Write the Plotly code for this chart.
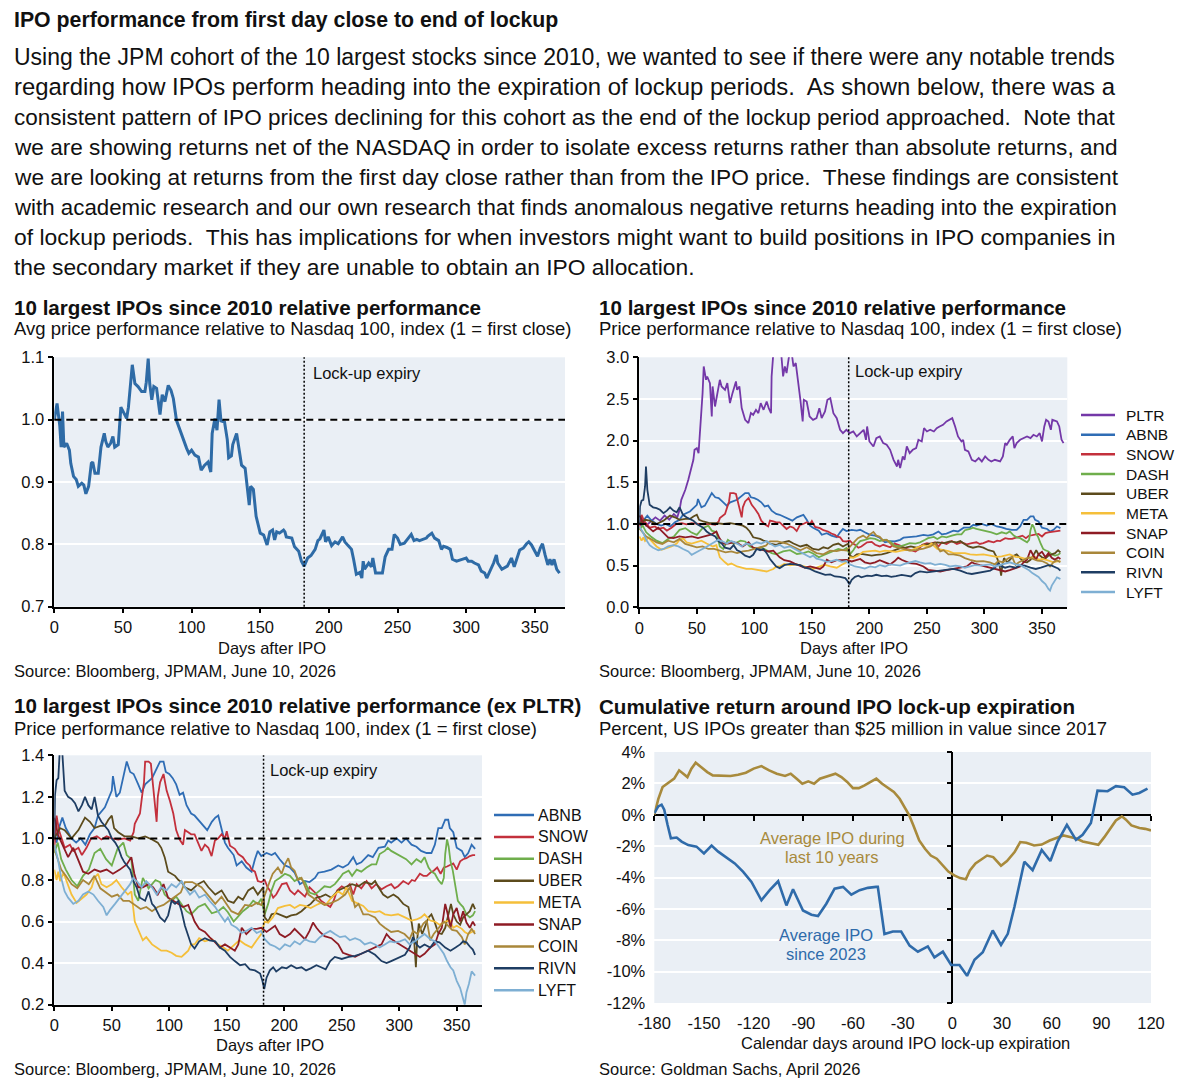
import plotly.graph_objects as go

W, H = 1200, 1086
FONT = "Liberation Sans, Arial, Helvetica, sans-serif"
BG = "#EAEFF5"

# ---------------- data ----------------
LOCKUP_DAY = 182

AVG = [(0, 1.0), (2, 1.026), (4, 0.99), (5, 0.956), (6, 1.013), (7, 0.956), (9, 0.962), (11, 0.951),
       (12, 0.93), (14, 0.909), (16, 0.904), (17.5, 0.893), (20, 0.898), (21.5, 0.895), (23, 0.881),
       (25, 0.893), (27, 0.93), (28, 0.932), (29.6, 0.914), (32, 0.914), (34, 0.956), (36.4, 0.978),
       (37.5, 0.965), (39, 0.956), (41, 0.962), (42.7, 0.973), (44, 0.956), (46.6, 0.96), (48.5, 1.02),
       (50, 1.013), (52.7, 1.002), (54, 1.02), (56.8, 1.088), (58.7, 1.058), (61, 1.053), (63.6, 1.045),
       (66, 1.045), (67, 1.06), (68.4, 1.098), (69.5, 1.058), (71, 1.032), (72.5, 1.053), (74.5, 1.05),
       (77, 1.008), (78.6, 1.04), (80.6, 1.029), (83, 1.055), (85, 1.047), (86.7, 1.034), (89, 0.999),
       (91.5, 0.983), (94, 0.97), (96.4, 0.954), (98, 0.946), (100, 0.951), (102.4, 0.943), (105, 0.94),
       (107, 0.919), (109.5, 0.927), (112, 0.932), (114, 0.916), (115, 0.978), (117, 1.002), (118.5, 0.983),
       (120, 1.032), (121.4, 0.998), (124, 0.996), (126, 0.968), (127, 0.939), (129, 0.942), (130, 0.96),
       (132.8, 0.978), (134, 0.96), (136.4, 0.927), (139, 0.922), (140, 0.898), (142, 0.863), (143, 0.893),
       (145, 0.888), (147, 0.845), (150, 0.818), (152.5, 0.815), (155, 0.799), (157, 0.82), (159, 0.823),
       (160.5, 0.807), (162, 0.82), (164, 0.818), (167, 0.823), (168, 0.82), (169, 0.812), (173, 0.81),
       (175, 0.796), (178, 0.789), (180, 0.773), (182, 0.765), (184.5, 0.778), (187, 0.782), (190, 0.792),
       (192, 0.806), (193.5, 0.809), (196.4, 0.823), (197.6, 0.804), (199.5, 0.812), (202, 0.798),
       (204.5, 0.804), (206.8, 0.801), (210, 0.812), (211.7, 0.804), (214, 0.798), (216.5, 0.792),
       (218, 0.776), (220, 0.752), (222.6, 0.755), (224, 0.746), (225, 0.773), (226, 0.76), (229, 0.77),
       (231, 0.764), (232, 0.778), (234, 0.754), (236, 0.754), (239, 0.754), (241, 0.78), (243.5, 0.792),
       (246, 0.792), (247.6, 0.816), (250, 0.81), (252, 0.8), (255, 0.802), (256.6, 0.806), (260, 0.816),
       (262, 0.806), (264, 0.808), (266, 0.806), (268.7, 0.808), (271, 0.81), (272, 0.813), (275, 0.818),
       (277, 0.81), (280, 0.806), (282, 0.792), (283.5, 0.797), (286, 0.795), (288.4, 0.792), (290, 0.776),
       (293, 0.773), (297, 0.776), (300, 0.778), (301.5, 0.773), (304, 0.773), (306, 0.77), (309, 0.767),
       (311, 0.757), (313.5, 0.754), (315, 0.746), (317.5, 0.757), (320, 0.77), (322, 0.783), (323, 0.77),
       (326, 0.76), (328, 0.762), (330, 0.765), (333, 0.778), (335, 0.764), (339, 0.791), (341.6, 0.794),
       (344, 0.801), (345.6, 0.804), (347.6, 0.799), (350, 0.789), (352, 0.781), (354, 0.794),
       (355.6, 0.801), (357.5, 0.783), (359.5, 0.767), (361, 0.776), (362.5, 0.767), (364, 0.776),
       (366, 0.76), (368, 0.754)]

PLTR = [(0, 1.0), (3, 1.05), (6, 0.98), (10, 1.03), (14, 1.08), (18, 1.04), (22, 1.1), (26, 1.05),
        (30, 1.12), (33, 1.08), (35, 1.17), (36.5, 1.29), (40, 1.41), (42.6, 1.53), (44, 1.61), (47, 1.77),
        (48, 1.89), (50, 1.91), (51.5, 1.85), (53, 2.13), (55, 2.57), (56, 2.89), (58, 2.73), (59, 2.77),
        (61.4, 2.69), (63, 2.29), (63.7, 2.65), (65.8, 2.41), (68, 2.57), (70, 2.73), (71.5, 2.65),
        (74.5, 2.61), (76.5, 2.69), (78.8, 2.45), (81, 2.57), (84, 2.71), (85, 2.61), (87, 2.65), (89, 2.39),
        (92, 2.25), (94.8, 2.21), (97, 2.33), (99, 2.31), (101.4, 2.37), (103.5, 2.33), (105.5, 2.45),
        (108, 2.37), (110.7, 2.47), (112.5, 2.39), (114.5, 2.33), (115, 2.77), (116.5, 3.05), (120, 3.2),
        (123, 3.1), (125, 2.77), (126.5, 2.89), (128, 2.81), (130, 3.0), (132, 3.1), (134, 2.89),
        (136, 2.93), (138, 2.73), (140, 2.49), (142, 2.23), (143, 2.49), (145.5, 2.47), (148, 2.29),
        (151, 2.25), (154, 2.27), (156.5, 2.39), (158.5, 2.27), (161.4, 2.35), (163.5, 2.49), (166, 2.51),
        (168.7, 2.33), (171.6, 2.27), (174.5, 2.13), (177, 2.09), (180, 2.13), (183, 2.09), (186, 2.11),
        (189, 2.05), (192, 2.09), (195, 2.13), (197, 2.01), (198, 2.17), (200, 1.99), (203.5, 1.93),
        (206, 2.03), (209, 2.05), (212, 1.97), (215, 1.95), (218, 1.89), (221, 1.77), (224, 1.69),
        (225, 1.77), (226.7, 1.67), (229, 1.81), (230.5, 1.77), (232.5, 1.93), (235, 1.85), (237.7, 1.89),
        (240.6, 1.91), (242.6, 2.01), (245.5, 1.99), (247.5, 2.15), (250, 2.11), (252.8, 2.13), (256, 2.11),
        (258.5, 2.15), (261, 2.17), (264, 2.19), (267, 2.23), (270, 2.25), (272, 2.27), (274.5, 2.17),
        (277, 2.05), (280, 1.99), (281.5, 2.01), (283, 1.89), (286, 1.87), (289, 1.77), (292, 1.75),
        (295, 1.79), (297.7, 1.75), (300.6, 1.81), (303.5, 1.77), (306, 1.75), (309, 1.77), (313.6, 1.75),
        (316, 1.81), (318, 1.97), (319.4, 1.95), (322, 2.01), (324.6, 2.05), (326, 1.91), (328, 1.97),
        (331, 2.01), (334, 2.03), (337, 2.05), (340, 2.03), (342.6, 2.07), (345.5, 2.05), (348, 2.09),
        (350, 1.99), (352, 2.17), (353.6, 2.25), (355.6, 2.23), (357.7, 2.13), (359, 2.25), (363, 2.23),
        (365, 2.17), (367, 2.01), (368.7, 1.97)]

ABNB = [(0, 1.0), (2, 0.98), (4, 1.05), (7, 1.1), (10, 1.05), (15, 1.0), (19, 0.98), (23, 1.0), (27, 0.97),
        (31, 1.02), (35, 1.05), (38, 1.11), (44, 1.15), (50, 1.23), (51, 1.3), (54, 1.2), (57, 1.22),
        (63, 1.37), (66, 1.32), (69, 1.31), (73, 1.26), (76, 1.22), (79, 1.26), (85, 1.29), (92, 1.37),
        (95, 1.37), (97, 1.32), (100, 1.31), (103, 1.29), (106, 1.26), (109, 1.21), (112, 1.22), (115, 1.16),
        (119, 1.12), (122, 1.11), (125, 1.09), (130, 1.06), (133, 1.04), (137, 1.08), (140, 1.1),
        (142.6, 1.11), (145.5, 1.05), (148.4, 0.98), (151, 0.955), (156, 0.92), (158.6, 0.87), (163, 0.89),
        (167, 0.86), (171.6, 0.84), (174.5, 0.9), (177, 0.94), (180, 0.915), (184.6, 0.93), (189, 0.92),
        (192, 0.93), (196, 0.9), (200.6, 0.87), (205, 0.86), (209, 0.835), (213.6, 0.78), (218, 0.795),
        (222, 0.79), (226.7, 0.81), (229.6, 0.835), (235, 0.84), (241, 0.85), (247, 0.87), (251, 0.86),
        (255.6, 0.875), (260, 0.91), (263, 0.875), (267, 0.885), (273, 0.92), (277, 0.91), (282, 0.955),
        (287.5, 0.96), (290.4, 0.99), (293, 0.98), (297.7, 1.0), (302, 0.98), (306, 1.0), (310.7, 0.97),
        (315, 0.96), (319, 0.94), (323.8, 0.93), (328, 0.93), (331, 0.97), (334, 1.05), (337, 1.05),
        (340, 1.09), (342.6, 1.09), (344, 1.05), (347, 1.03), (350, 0.955), (354.5, 0.94), (357, 0.91),
        (360, 0.93), (363, 0.97), (364.5, 0.96), (366, 0.95)]

SNOW = [(0, 0.95), (2, 1.11), (4, 1.04), (9, 0.955), (13.6, 0.97), (16.5, 0.94), (21, 0.955), (24, 0.92),
        (28, 0.955), (32, 1.0), (37, 1.01), (41, 0.995), (45.5, 1.01), (50, 1.0), (55.6, 0.995), (61, 1.0),
        (66, 0.99), (69, 1.03), (70, 1.07), (74.5, 1.12), (76.5, 1.21), (78, 1.27), (79, 1.37), (82, 1.37),
        (84, 1.36), (86, 1.26), (87.5, 1.18), (89, 1.08), (90, 1.2), (92, 1.27), (95, 1.31), (97.7, 1.23),
        (100.6, 1.18), (103.5, 1.12), (106, 1.04), (109, 0.995), (112, 0.97), (113.6, 1.04), (116.5, 1.03),
        (119, 1.02), (122, 1.02), (125, 0.98), (128, 0.94), (131, 0.97), (134, 0.955), (136.8, 0.915),
        (139.7, 0.99), (142.6, 1.0), (145.5, 1.02), (148.4, 1.0), (150, 1.035), (152.8, 0.965), (157, 0.95),
        (160, 0.925), (164, 0.91), (167, 0.885), (170, 0.87), (171.6, 0.85), (174.5, 0.84), (177, 0.795),
        (180, 0.79), (183, 0.8), (185.5, 0.765), (187.5, 0.75), (190.4, 0.715), (193, 0.73), (198, 0.78),
        (202, 0.785), (205, 0.75), (209, 0.73), (212, 0.75), (218, 0.72), (222, 0.765), (226.7, 0.74),
        (232, 0.7), (236, 0.685), (240, 0.67), (243, 0.7), (246, 0.75), (250, 0.77), (253, 0.76), (257, 0.78),
        (260, 0.73), (263, 0.78), (267, 0.76), (271.6, 0.795), (276, 0.76), (280, 0.78), (284.6, 0.755),
        (289, 0.77), (293, 0.78), (296, 0.76), (299, 0.77), (303.5, 0.795), (308, 0.78), (311, 0.8),
        (313.6, 0.795), (318, 0.83), (321, 0.82), (324, 0.82), (327, 0.835), (330, 0.845), (333, 0.86),
        (336, 0.83), (338.8, 0.86), (341.6, 0.865), (344, 0.87), (347, 0.88), (350, 0.85), (353, 0.89),
        (355.6, 0.9), (358.5, 0.905), (361.4, 0.915), (364, 0.92), (366, 0.92)]

DASH = [(0, 0.93), (3, 0.98), (6, 0.9), (10, 0.85), (15, 0.8), (20, 0.77), (25, 0.82), (30, 0.85), (35, 0.93),
        (40, 0.95), (45, 0.9), (50, 0.87), (55, 0.95), (60, 0.98), (63, 0.92), (67, 0.9), (70, 0.73),
        (73, 0.7), (77, 0.81), (82, 0.76), (88, 0.8), (92, 0.79), (96, 0.73), (102, 0.7), (106, 0.72),
        (111, 0.68), (115, 0.65), (119, 0.635), (125, 0.67), (131, 0.685), (137, 0.64), (142.6, 0.65),
        (147, 0.67), (151, 0.645), (156, 0.6), (160, 0.625), (164, 0.65), (168.7, 0.67), (173, 0.7),
        (177, 0.685), (180, 0.71), (183, 0.635), (186, 0.685), (189, 0.75), (192, 0.795), (196, 0.81),
        (200.6, 0.83), (205, 0.82), (209, 0.795), (213.6, 0.81), (218, 0.79), (222, 0.74), (226.7, 0.73),
        (231, 0.75), (235, 0.77), (240, 0.765), (244, 0.78), (248.4, 0.81), (251, 0.83), (256, 0.845),
        (259, 0.82), (263, 0.85), (267, 0.84), (271.6, 0.86), (276, 0.875), (280, 0.875), (283, 0.925),
        (287.5, 0.94), (290, 0.955), (293, 0.94), (297.7, 0.925), (302, 0.91), (306, 0.9), (310.7, 0.875),
        (315, 0.9), (319, 0.885), (322, 0.91), (325.5, 0.86), (328, 0.84), (331, 0.83), (334, 0.8),
        (337, 0.78), (338.8, 0.81), (340, 0.925), (341.6, 0.995), (343, 0.96), (344.6, 0.89), (346.6, 0.845),
        (349, 0.76), (351, 0.7), (353, 0.685), (355.6, 0.67), (358.5, 0.635), (361.4, 0.62), (364, 0.63),
        (366, 0.65)]

UBER = [(0, 1.0), (2, 1.02), (5, 1.05), (9, 1.04), (15, 1.0), (21, 1.04), (26.7, 1.1), (31, 1.08), (35, 1.05),
        (40, 1.06), (44, 1.06), (47, 1.09), (50, 1.11), (52, 1.05), (55.6, 1.03), (61, 1.01), (67, 1.01),
        (73, 1.0), (79, 1.01), (85, 0.995), (90, 0.98), (93, 0.955), (96, 0.91), (99, 0.84), (102, 0.83),
        (105, 0.82), (108, 0.8), (110.7, 0.79), (113.6, 0.765), (119, 0.75), (125, 0.78), (130, 0.795),
        (134, 0.765), (140, 0.73), (145.5, 0.75), (151, 0.7), (156, 0.69), (160, 0.72), (164, 0.705),
        (168.7, 0.75), (173, 0.765), (177, 0.73), (181.7, 0.765), (183, 0.62), (186, 0.6), (189, 0.635),
        (193, 0.64), (198, 0.63), (202, 0.62), (206, 0.63), (210.7, 0.635), (215, 0.65), (219, 0.67),
        (223, 0.685), (228, 0.715), (232, 0.72), (236, 0.73), (241, 0.715), (247, 0.75), (253, 0.765),
        (259, 0.78), (264.6, 0.77), (270, 0.79), (276, 0.78), (279, 0.795), (282, 0.765), (286, 0.73),
        (290, 0.715), (295, 0.73), (299, 0.715), (303.5, 0.685), (308, 0.67), (311, 0.59), (313, 0.51),
        (314.5, 0.38), (315.6, 0.51), (317, 0.59), (320, 0.54), (322, 0.57), (325.5, 0.62), (328, 0.635),
        (331, 0.595), (334, 0.545), (337, 0.54), (340, 0.57), (343, 0.635), (345, 0.685), (347, 0.635),
        (350, 0.6), (353, 0.585), (355.6, 0.62), (358.5, 0.635), (361.4, 0.65), (364, 0.685), (366, 0.66)]

META = [(0, 0.85), (2, 0.8), (3.5, 0.84), (5, 0.795), (8, 0.835), (12, 0.78), (15, 0.73), (19.4, 0.69),
        (24, 0.71), (28, 0.73), (32.5, 0.765), (35, 0.81), (38, 0.83), (41, 0.78), (45.5, 0.765), (50, 0.78),
        (54, 0.8), (58.5, 0.765), (64, 0.73), (67, 0.745), (70, 0.6), (74.5, 0.54), (77, 0.51), (80, 0.525),
        (85, 0.49), (89, 0.475), (93, 0.46), (97.7, 0.46), (102, 0.45), (106, 0.435), (110.7, 0.43),
        (113.6, 0.445), (116.5, 0.46), (119, 0.49), (122, 0.49), (126, 0.52), (131, 0.505), (137, 0.515),
        (142.6, 0.49), (147, 0.475), (151, 0.46), (157, 0.49), (161, 0.51), (166, 0.49), (171.6, 0.475),
        (176, 0.51), (180, 0.54), (183, 0.6), (186, 0.595), (190, 0.62), (194.5, 0.665), (200.6, 0.675),
        (205, 0.68), (209, 0.665), (213.6, 0.68), (218, 0.675), (223, 0.665), (228, 0.68), (232, 0.69),
        (236, 0.68), (241, 0.715), (247, 0.745), (251, 0.73), (254, 0.765), (259, 0.7), (264.6, 0.685),
        (268.7, 0.675), (273, 0.65), (279, 0.645), (283, 0.65), (287.5, 0.635), (293, 0.63), (299, 0.635),
        (305, 0.62), (310.7, 0.605), (315, 0.61), (319, 0.62), (322, 0.635), (327, 0.605), (331, 0.6),
        (335, 0.585), (340, 0.6), (344, 0.605), (347, 0.57), (350, 0.58), (354.5, 0.565), (357, 0.55),
        (360, 0.54), (363, 0.55), (366, 0.555)]

SNAP = [(0, 1.1), (1, 1.08), (3, 1.02), (8, 0.955), (12, 0.91), (16.5, 0.955), (21, 0.89), (25, 0.84),
        (29.6, 0.83), (35, 0.85), (40, 0.84), (45.5, 0.85), (51, 0.83), (57, 0.85), (63, 0.875), (67, 0.91),
        (69.6, 0.83), (73, 0.765), (77, 0.765), (82, 0.78), (86, 0.765), (90, 0.73), (95, 0.78), (99, 0.715),
        (103.5, 0.7), (108, 0.685), (112, 0.67), (116.5, 0.68), (118, 0.66), (122, 0.6), (126, 0.565),
        (131, 0.55), (135, 0.525), (140, 0.5), (144, 0.475), (148.4, 0.49), (152.8, 0.475), (157, 0.46),
        (160, 0.49), (163, 0.57), (167, 0.54), (171.6, 0.565), (176, 0.565), (180, 0.57), (184.6, 0.55),
        (189, 0.57), (192, 0.58), (196, 0.54), (200.6, 0.525), (205, 0.54), (209, 0.565), (213.6, 0.54),
        (218, 0.515), (222, 0.555), (225, 0.595), (228, 0.57), (231, 0.55), (235, 0.53), (241, 0.52),
        (247, 0.49), (251, 0.45), (256, 0.44), (261.6, 0.43), (267, 0.445), (273, 0.46), (279, 0.475),
        (284.6, 0.49), (289, 0.54), (292, 0.52), (296, 0.505), (300.6, 0.49), (305, 0.475), (309, 0.46),
        (313.6, 0.445), (318, 0.43), (322, 0.445), (327, 0.475), (331, 0.49), (334, 0.54), (337, 0.57),
        (340, 0.685), (342, 0.64), (344.6, 0.57), (347, 0.635), (350, 0.665), (353, 0.6), (355.6, 0.65),
        (358.5, 0.595), (361.4, 0.57), (364, 0.6), (366, 0.58)]

COIN = [(0, 0.95), (3, 0.9), (6, 0.85), (10, 0.82), (15, 0.78), (20, 0.76), (25, 0.8), (30, 0.78), (35, 0.82),
        (40, 0.76), (45, 0.74), (50, 0.72), (55, 0.73), (60, 0.7), (65, 0.7), (70, 0.68), (75, 0.66),
        (80, 0.67), (85, 0.65), (90, 0.67), (95, 0.68), (100, 0.7), (105, 0.72), (110, 0.74), (113.6, 0.79),
        (120, 0.79), (128, 0.765), (134, 0.725), (140, 0.685), (145.5, 0.72), (150, 0.68), (154, 0.65),
        (160, 0.635), (165.8, 0.68), (171.6, 0.675), (176, 0.69), (180, 0.68), (183, 0.73), (187.5, 0.795),
        (190, 0.83), (194.5, 0.86), (197.7, 0.83), (200.6, 0.875), (203.5, 0.905), (206, 0.86),
        (209, 0.845), (212, 0.8), (215, 0.81), (218, 0.765), (221, 0.73), (225, 0.715), (229.6, 0.7),
        (235, 0.68), (241, 0.69), (247, 0.705), (253, 0.73), (257, 0.765), (261.6, 0.67), (264.6, 0.685),
        (268.7, 0.635), (273, 0.635), (279, 0.62), (283, 0.59), (287.5, 0.57), (293, 0.55), (299, 0.555),
        (304.6, 0.54), (309, 0.515), (312, 0.555), (316, 0.54), (321, 0.59), (324, 0.605), (327, 0.51),
        (330, 0.54), (334, 0.57), (338.8, 0.6), (341.6, 0.585), (346, 0.56), (350, 0.555), (354.5, 0.525),
        (357, 0.49), (360, 0.54), (363, 0.565), (366, 0.54)]

RIVN = [(0, 1.0), (0.6, 1.21), (2, 1.28), (3.5, 1.29), (5, 1.45), (5.8, 1.69), (7, 1.41), (8, 1.3),
        (9, 1.23), (12, 1.2), (15, 1.19), (18, 1.17), (21, 1.13), (24, 1.16), (26.7, 1.2), (29.6, 1.16),
        (32.5, 1.14), (35, 1.2), (38, 1.11), (41, 1.08), (44, 1.06), (47, 1.04), (50, 1.0), (53, 0.98),
        (55.6, 0.955), (58.5, 0.91), (61, 0.885), (66, 0.85), (68.7, 0.795), (71.6, 0.765), (74.5, 0.715),
        (79, 0.7), (82, 0.745), (85, 0.685), (87.5, 0.67), (92, 0.62), (96, 0.6), (99, 0.63), (102, 0.7),
        (105, 0.685), (108, 0.7), (110.7, 0.65), (113.6, 0.58), (116.5, 0.53), (119, 0.49), (122, 0.47),
        (126, 0.505), (131, 0.52), (135, 0.51), (140, 0.505), (144, 0.475), (148.4, 0.46), (152.8, 0.43),
        (157, 0.41), (161.6, 0.39), (166, 0.395), (170, 0.37), (174.5, 0.365), (179, 0.35), (181, 0.315),
        (182.6, 0.275), (184.6, 0.33), (187.5, 0.365), (190.4, 0.38), (193, 0.36), (198, 0.38),
        (202, 0.375), (206, 0.39), (210.7, 0.375), (215, 0.38), (219, 0.365), (223, 0.375), (228, 0.39),
        (232, 0.38), (236, 0.37), (240, 0.41), (244, 0.43), (250, 0.42), (256, 0.43), (261.6, 0.435),
        (267, 0.445), (273, 0.46), (279, 0.44), (284.6, 0.41), (289, 0.4), (293, 0.41), (299, 0.425),
        (305, 0.44), (309, 0.475), (312, 0.525), (315, 0.49), (318, 0.475), (322, 0.49), (327, 0.475),
        (331, 0.505), (335, 0.5), (340, 0.475), (344.6, 0.46), (349, 0.475), (353, 0.49), (355.6, 0.505),
        (358.5, 0.5), (361.4, 0.48), (364, 0.465), (366, 0.44)]

LYFT = [(0, 0.97), (3.5, 0.89), (6, 0.81), (9, 0.745), (12, 0.715), (16.5, 0.685), (21, 0.7), (25, 0.73),
        (29.6, 0.745), (34, 0.73), (38, 0.7), (42.6, 0.67), (45.5, 0.63), (48.4, 0.655), (52.8, 0.685),
        (57, 0.715), (61, 0.745), (66, 0.78), (68.7, 0.81), (71.6, 0.795), (76, 0.765), (80, 0.795),
        (85, 0.765), (89, 0.73), (93, 0.765), (97.7, 0.75), (102, 0.78), (106, 0.765), (110.7, 0.795),
        (113.6, 0.765), (118, 0.73), (122, 0.75), (126, 0.715), (131, 0.73), (135, 0.7), (140, 0.67),
        (144, 0.635), (148.4, 0.6), (151, 0.62), (154, 0.585), (158.6, 0.57), (163, 0.545), (167, 0.555),
        (171.6, 0.57), (176, 0.545), (180, 0.555), (183, 0.515), (187.5, 0.49), (192, 0.48), (196, 0.465),
        (200.6, 0.49), (205, 0.48), (209, 0.505), (213.6, 0.49), (218, 0.515), (222, 0.505), (226.7, 0.5),
        (231, 0.525), (235, 0.54), (240, 0.555), (244, 0.54), (248.4, 0.525), (253, 0.53), (257, 0.51),
        (261.6, 0.52), (266, 0.51), (270, 0.49), (275, 0.5), (279, 0.49), (283, 0.475), (287.5, 0.49),
        (292, 0.505), (296, 0.5), (300.6, 0.505), (305, 0.515), (309, 0.49), (313.6, 0.505), (318, 0.525),
        (322, 0.54), (327, 0.515), (331, 0.505), (335, 0.475), (338.8, 0.445), (341.6, 0.41), (344.6, 0.38),
        (347, 0.365), (350, 0.315), (353, 0.28), (355.6, 0.22), (357, 0.2), (358.5, 0.26), (360.6, 0.3),
        (363, 0.36), (364.5, 0.35), (366, 0.34)]

IPO_10Y = [(-180, 0.0), (-177.6, 1.0), (-175, 1.77), (-172, 1.98), (-168, 2.3), (-165, 2.83), (-162, 2.6),
           (-160, 2.4), (-157.6, 2.94), (-155, 3.32), (-151.8, 3.04), (-148, 2.72), (-144.7, 2.51),
           (-138.8, 2.47), (-134, 2.47), (-129.4, 2.55), (-124.7, 2.68), (-120, 2.94), (-115.3, 3.1),
           (-110.6, 2.83), (-106, 2.62), (-101, 2.47), (-97.6, 2.62), (-94, 2.3), (-90.6, 1.98), (-87, 2.13),
           (-83.5, 1.98), (-80, 2.3), (-75.3, 2.47), (-70.6, 2.62), (-67, 2.4), (-63.5, 2.09), (-60, 1.7),
           (-56.5, 1.7), (-53, 1.87), (-49.4, 2.09), (-45.9, 2.3), (-42.4, 1.98), (-38.8, 1.7), (-35.3, 1.45),
           (-31.8, 1.02), (-28.2, 0.38), (-26, -0.04), (-23.5, -0.68), (-20, -1.64), (-16.5, -2.17),
           (-13, -2.6), (-9.4, -2.8), (-5.9, -3.23), (-2.4, -3.62), (1.2, -3.87), (4.7, -4.04), (8.2, -4.12),
           (10.6, -3.55), (14, -3.1), (17.6, -2.85), (21, -2.6), (24.7, -2.7), (29.4, -3.25), (33, -2.95),
           (37.6, -2.38), (41, -1.74), (44.7, -1.79), (49.4, -1.96), (54, -1.9), (58.8, -1.64), (62.4, -1.49),
           (67, -1.32), (71.8, -1.43), (75.3, -1.53), (78.8, -1.7), (83.5, -1.79), (88.2, -1.91),
           (91.8, -1.43), (95.3, -0.89), (98.8, -0.36), (102.4, -0.1), (104.7, -0.3), (108.2, -0.68),
           (113, -0.85), (116.5, -0.9), (120, -1.0)]

IPO_2023 = [(-180, 0.1), (-177.6, 0.53), (-175.6, 0.64), (-174, 0.32), (-172, -0.64), (-170, -1.5),
            (-166.5, -1.45), (-163.5, -1.71), (-159.5, -1.93), (-154.5, -2.03), (-150, -2.46),
            (-145.4, -1.97), (-141.4, -2.35), (-136.4, -2.74), (-131.4, -3.1), (-126.3, -3.64),
            (-121.3, -4.28), (-115.3, -5.45), (-110.3, -4.81), (-105.2, -4.24), (-100.2, -5.78),
            (-96.2, -4.75), (-90.2, -6.1), (-85.1, -6.37), (-81.1, -6.46), (-76.1, -5.67), (-71.1, -4.71),
            (-66, -4.6), (-61, -5.09), (-56, -4.81), (-51, -4.66), (-46, -4.6), (-45, -4.6), (-41, -7.6),
            (-35.9, -7.44), (-30.9, -7.44), (-25.8, -8.34), (-20.8, -8.73), (-14.8, -8.39), (-10.8, -9.09),
            (-5.7, -8.73), (-0.7, -9.58), (4.3, -9.58), (8.9, -10.27), (13.4, -9.24), (18.4, -8.77),
            (24.4, -7.38), (29.4, -8.3), (33.5, -7.59), (37.5, -5.88), (43.5, -2.99), (48.5, -3.53),
            (54, -2.25), (59.2, -2.95), (63.6, -1.71), (69.2, -0.64), (74.7, -1.6), (78.7, -1.28),
            (83.7, -0.53), (87.7, 1.54), (93.8, 1.5), (98.8, 1.82), (103.8, 1.75), (108.8, 1.28),
            (112.9, 1.39), (117.9, 1.67)]

STOCK_NAMES = ["PLTR", "ABNB", "SNOW", "DASH", "UBER", "META", "SNAP", "COIN", "RIVN", "LYFT"]
STOCK_SERIES = [PLTR, ABNB, SNOW, DASH, UBER, META, SNAP, COIN, RIVN, LYFT]

DAY_TICKS = [0, 50, 100, 150, 200, 250, 300, 350]
P4_X_TICKS = [-180, -150, -120, -90, -60, -30, 0, 30, 60, 90, 120]
P4_Y_TICKS = [-12, -10, -8, -6, -4, -2, 0, 2, 4]

# ---------------- styles ----------------
STOCK_COLORS = {"PLTR": "#7438A8", "ABNB": "#2F6DB5", "SNOW": "#C3303C", "DASH": "#6FAE4C",
                "UBER": "#5C4B1C", "META": "#F5BF3A", "SNAP": "#8E1B24", "COIN": "#A9873A",
                "RIVN": "#1E3D63", "LYFT": "#7EAFD3"}
AVG_COLOR = "#2E6BA6"
GOLD = "#A88A3C"
BLUE = "#2F6BAA"


def xs(pairs):
    return [p[0] for p in pairs]


def ys(pairs):
    return [p[1] for p in pairs]


def fx(x):
    return x / W


def fy(y):
    return 1 - y / H


fig = go.Figure()

# panel 1
fig.add_trace(go.Scatter(x=xs(AVG), y=ys(AVG), mode="lines", line=dict(color=AVG_COLOR, width=3),
                         xaxis="x", yaxis="y", showlegend=False, hoverinfo="skip"))
# panel 2
for name, s in zip(STOCK_NAMES, STOCK_SERIES):
    fig.add_trace(go.Scatter(x=xs(s), y=ys(s), mode="lines", name=name,
                             line=dict(color=STOCK_COLORS[name], width=1.8),
                             xaxis="x2", yaxis="y2", showlegend=False, hoverinfo="skip"))
# panel 3 (ex PLTR)
for name, s in zip(STOCK_NAMES[1:], STOCK_SERIES[1:]):
    fig.add_trace(go.Scatter(x=xs(s), y=ys(s), mode="lines", name=name,
                             line=dict(color=STOCK_COLORS[name], width=1.8),
                             xaxis="x3", yaxis="y3", showlegend=False, hoverinfo="skip"))
# panel 4
fig.add_trace(go.Scatter(x=xs(IPO_10Y), y=ys(IPO_10Y), mode="lines", line=dict(color=GOLD, width=2.6),
                         xaxis="x4", yaxis="y4", showlegend=False, hoverinfo="skip"))
fig.add_trace(go.Scatter(x=xs(IPO_2023), y=ys(IPO_2023), mode="lines", line=dict(color=BLUE, width=2.6),
                         xaxis="x4", yaxis="y4", showlegend=False, hoverinfo="skip"))
# invisible carrier for the zero-line tick axes
fig.add_trace(go.Scatter(x=xs(IPO_2023), y=ys(IPO_2023), mode="lines", opacity=0,
                         line=dict(color=BLUE, width=1), xaxis="x5", yaxis="y5",
                         showlegend=False, hoverinfo="skip"))

TICKFONT = dict(family=FONT, size=16.5, color="#111")


def axis(**kw):
    d = dict(showline=True, linecolor="black", linewidth=1.5, ticks="outside", ticklen=5, tickwidth=1.5,
             tickcolor="black", tickfont=TICKFONT, showgrid=False, zeroline=False, fixedrange=True,
             automargin=False)
    d.update(kw)
    return d


# plot-area geometry in pixels
P1 = dict(x0=54.3, x1=565.0, y0=357.3, y1=606.7)
P2 = dict(x0=639.3, x1=1067.3, y0=357.3, y1=607.3)
P3 = dict(x0=54.3, x1=482.0, y0=755.3, y1=1004.7)
P4 = dict(x0=654.3, x1=1151.0, y0=752.0, y1=1003.0)


def xdom(p):
    return [fx(p["x0"]), fx(p["x1"])]


def ydom(p):
    return [fy(p["y1"]), fy(p["y0"])]


grid = dict(showgrid=True, gridcolor="white", gridwidth=2)

fig.update_layout(
    xaxis=axis(domain=xdom(P1), range=[0, 372], tickvals=DAY_TICKS, anchor="y"),
    yaxis=axis(domain=ydom(P1), range=[0.7, 1.1], tick0=0.7, dtick=0.1, tickformat=".1f", anchor="x", **grid),
    xaxis2=axis(domain=xdom(P2), range=[0, 372], tickvals=DAY_TICKS, anchor="y2"),
    yaxis2=axis(domain=ydom(P2), range=[0, 3], tick0=0, dtick=0.5, tickformat=".1f", anchor="x2", **grid),
    xaxis3=axis(domain=xdom(P3), range=[0, 372], tickvals=DAY_TICKS, anchor="y3"),
    yaxis3=axis(domain=ydom(P3), range=[0.2, 1.4], tick0=0.2, dtick=0.2, tickformat=".1f", anchor="x3", **grid),
    xaxis4=axis(domain=xdom(P4), range=[-180, 120], tickvals=P4_X_TICKS,
                ticktext=[str(v) for v in P4_X_TICKS], anchor="y4", showline=False, ticks="",
                zeroline=True, zerolinecolor="black", zerolinewidth=1.5, ticklabelstandoff=8),
    yaxis4=axis(domain=ydom(P4), range=[-12, 4], tickvals=P4_Y_TICKS,
                ticktext=["%d%%" % v for v in P4_Y_TICKS], anchor="x4", showline=False, ticks="",
                zeroline=True, zerolinecolor="black", zerolinewidth=1.5, ticklabelstandoff=8, **grid),
    xaxis5=axis(domain=xdom(P4), range=[-180, 120], tickvals=P4_X_TICKS, overlaying="x4", anchor="free",
                position=ydom(P4)[0] + (0 - (-12)) / 16 * (ydom(P4)[1] - ydom(P4)[0]),
                showline=False, showticklabels=False, side="bottom"),
    yaxis5=axis(domain=ydom(P4), range=[-12, 4], tickvals=P4_Y_TICKS, overlaying="y4", anchor="free",
                position=xdom(P4)[0] + (0 - (-180)) / 300 * (xdom(P4)[1] - xdom(P4)[0]),
                showline=False, showticklabels=False, side="left"),
    width=W, height=H, margin=dict(l=0, r=0, t=0, b=0, autoexpand=False),
    paper_bgcolor="white", plot_bgcolor=BG, showlegend=False,
    font=dict(family=FONT, color="#111"),
)

# reference lines
for xa, ya in [("x", "y"), ("x2", "y2"), ("x3", "y3")]:
    fig.add_shape(type="line", xref=xa + " domain", x0=0, x1=1, yref=ya, y0=1.0, y1=1.0,
                  line=dict(color="black", width=2, dash="7px,5px"))
    fig.add_shape(type="line", xref=xa, x0=LOCKUP_DAY, x1=LOCKUP_DAY, yref=ya + " domain", y0=0, y1=1,
                  line=dict(color="black", width=1.5, dash="2px,2px"))


def text(x, y, s, size=16.5, bold=False, color="#111", xanchor="left"):
    fig.add_annotation(x=fx(x), y=fy(y), xref="paper", yref="paper",
                       text=("<b>%s</b>" % s) if bold else s, showarrow=False,
                       xanchor=xanchor, yanchor="middle",
                       font=dict(family=FONT, size=size, color=color))


# header
text(12, 20, "IPO performance from first day close to end of lockup", size=21.3, bold=True)
PARAGRAPH = [
    "Using the JPM cohort of the 10 largest stocks since 2010, we wanted to see if there were any notable trends",
    "regarding how IPOs perform heading into the expiration of lockup periods.\u00a0 As shown below, there was a",
    "consistent pattern of IPO prices declining for this cohort as the end of the lockup period approached.\u00a0 Note that",
    "we are showing returns net of the NASDAQ in order to isolate excess returns rather than absolute returns, and",
    "we are looking at returns from the first day close rather than from the IPO price.\u00a0 These findings are consistent",
    "with academic research and our own research that finds anomalous negative returns heading into the expiration",
    "of lockup periods.\u00a0 This has implications for when investors might want to build positions in IPO companies in",
    "the secondary market if they are unable to obtain an IPO allocation.",
]
PARA_SIZES = [23.0, 23.9, 22.5, 22.6, 22.7, 22.3, 22.9, 22.8]
for i, line in enumerate(PARAGRAPH):
    text(12, 57 + 30 * i, line, size=PARA_SIZES[i])

# panel titles
text(12, 307, "10 largest IPOs since 2010 relative performance", size=20.6, bold=True)
text(12, 329, "Avg price performance relative to Nasdaq 100, index (1 = first close)", size=18.5)
text(597, 307, "10 largest IPOs since 2010 relative performance", size=20.6, bold=True)
text(597, 329, "Price performance relative to Nasdaq 100, index (1 = first close)", size=18.5)
text(12, 705, "10 largest IPOs since 2010 relative performance (ex PLTR)", size=20.6, bold=True)
text(12, 728, "Price performance relative to Nasdaq 100, index (1 = first close)", size=18.5)
text(597, 706, "Cumulative return around IPO lock-up expiration", size=20.6, bold=True)
text(597, 728, "Percent, US IPOs greater than $25 million in value since 2017", size=18.5)

# axis titles & sources
text(272, 648, "Days after IPO", xanchor="center")
text(854, 648, "Days after IPO", xanchor="center")
text(270, 1045, "Days after IPO", xanchor="center")
text(905, 1043, "Calendar days around IPO lock-up expiration", xanchor="center")
text(12, 671, "Source: Bloomberg, JPMAM, June 10, 2026", size=16.5)
text(597, 671, "Source: Bloomberg, JPMAM, June 10, 2026", size=16.5)
text(12, 1069, "Source: Bloomberg, JPMAM, June 10, 2026", size=16.5)
text(597, 1069, "Source: Goldman Sachs, April 2026", size=16.5)

# lock-up labels
text(311, 373, "Lock-up expiry")
text(853, 371, "Lock-up expiry")
text(268, 770, "Lock-up expiry")

# panel 4 labels
text(832, 838, "Average IPO during", color=GOLD, xanchor="center")
text(832, 857, "last 10 years", color=GOLD, xanchor="center")
text(826, 935, "Average IPO", color=BLUE, xanchor="center")
text(826, 954, "since 2023", color=BLUE, xanchor="center")

# legends
for i, name in enumerate(STOCK_NAMES):
    yy = 415 + i * 19.67
    fig.add_shape(type="line", xref="paper", yref="paper", x0=fx(1081), x1=fx(1115), y0=fy(yy), y1=fy(yy),
                  line=dict(color=STOCK_COLORS[name], width=2.5))
    text(1124, yy, name, size=15.5)
for i, name in enumerate(STOCK_NAMES[1:]):
    yy = 815 + i * 21.9
    fig.add_shape(type="line", xref="paper", yref="paper", x0=fx(494), x1=fx(534), y0=fy(yy), y1=fy(yy),
                  line=dict(color=STOCK_COLORS[name], width=2.5))
    text(536, yy, name, size=16)

PAGE_JS = ("document.documentElement.style.margin='0';document.body.style.margin='0';"
           "document.documentElement.style.overflow='hidden';document.body.style.overflow='hidden';")
fig.write_html("out.html", post_script=PAGE_JS)
